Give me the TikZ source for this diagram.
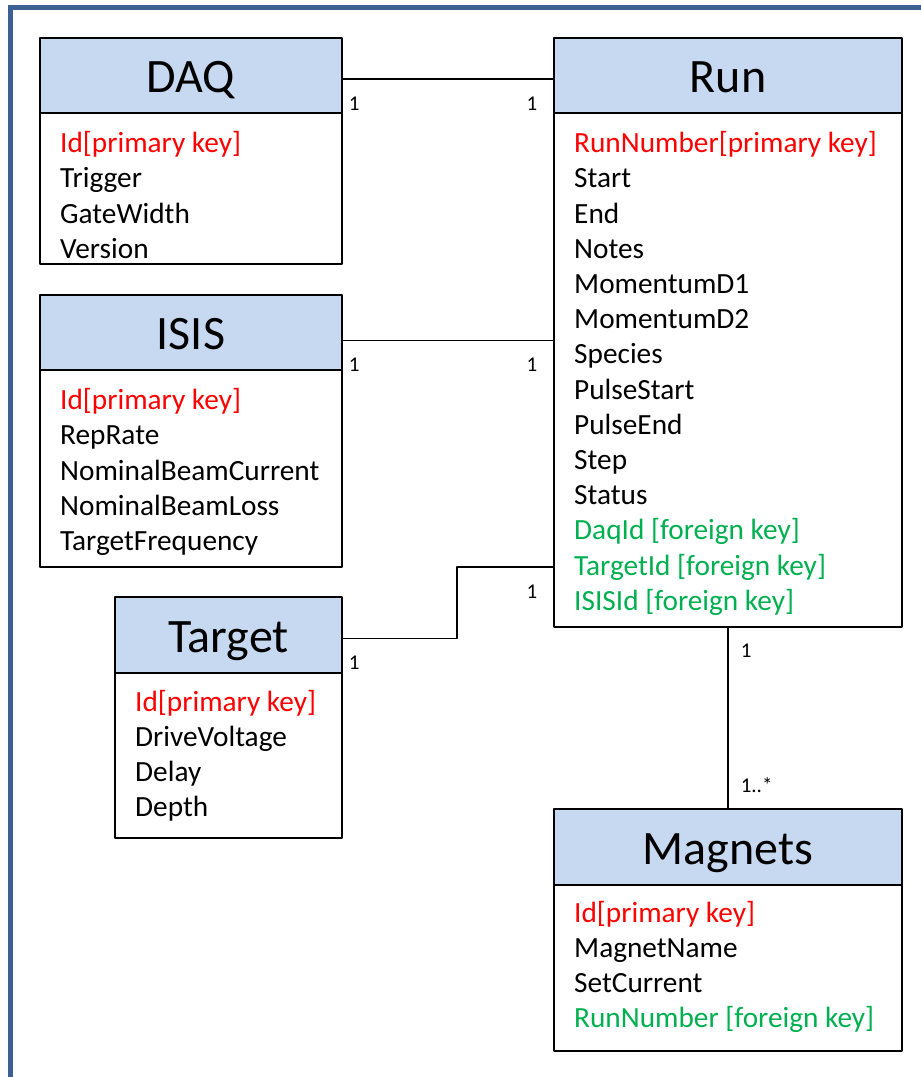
\documentclass[tikz,border=0pt]{standalone}
\usepackage{fontspec}
\setmainfont{Carlito}
\usetikzlibrary{positioning}
\definecolor{hdrfill}{RGB}{198,217,241}
\definecolor{framecol}{RGB}{60,96,145}
\definecolor{pkred}{RGB}{255,0,0}
\definecolor{fkgreen}{RGB}{0,176,80}
\tikzset{
    tbltitle/.style={
        font=\fontsize{48}{56}\selectfont, text height=34pt, text depth=0pt
    }
}

\begin{document}
\begin{tikzpicture}[x=1pt,y=-1pt, line cap=round, line join=round]

\tikzset{
  hdr/.style={rectangle, draw=black, fill=hdrfill, line width=1.6pt, minimum height=75.5pt, inner sep=0pt, outer sep=0pt, tbltitle},
  tbl/.style={rectangle, draw=black, line width=1.6pt, inner sep=0pt, outer sep=0pt},
  attr/.style={anchor=north west, align=left, inner sep=0pt, font=\fontsize{29.3}{35.2}\selectfont, execute at begin node=\strut},
  conn/.style={draw=black, line width=1.6pt},
  mult/.style={inner sep=0pt, font=\fontsize{21}{25}\selectfont},
  multL/.style={mult, anchor=north west, xshift=6pt, yshift=-17pt},
  multR/.style={mult, anchor=north east, xshift=-16pt, yshift=-17pt},
  outerframe/.style={draw=framecol, line width=5pt, line cap=butt, line join=miter},
}

\useasboundingbox (0,0) rectangle (921,1077);

% outer frame (only top and left edge visible)
\draw[outerframe] (10,1085) -- (10,7.5) -- (930,7.5);

% DAQ
\node[hdr, minimum width=302pt] (daq) at (191,75.5) {DAQ};
\node[tbl, minimum width=302pt, minimum height=151pt, below=0pt of daq] (daqbody) {};
\node[attr, below right=18pt and 20pt of daqbody.north west] (daqattr) {%
  \textcolor{pkred}{Id[primary key]}\\
  Trigger\\
  GateWidth\\
  Version};

% ISIS
\node[hdr, minimum width=302pt] (isis) at (191,332.5) {ISIS};
\node[tbl, minimum width=302pt, minimum height=197pt, below=0pt of isis] (isisbody) {};
\node[attr, below right=18pt and 20pt of isisbody.north west] (isisattr) {%
  \textcolor{pkred}{Id[primary key]}\\
  RepRate\\
  NominalBeamCurrent\\
  NominalBeamLoss\\
  TargetFrequency};

% Target
\node[hdr, minimum width=227pt, minimum height=76pt] (target) at (228.5,635) {Target};
\node[tbl, minimum width=227pt, minimum height=165pt, below=0pt of target] (targetbody) {};
\node[attr, below right=17pt and 20pt of targetbody.north west] (targetattr) {%
  \textcolor{pkred}{Id[primary key]}\\
  DriveVoltage\\
  Delay\\
  Depth};

% Run
\node[hdr, minimum width=348pt] (run) at (728,75.5) {Run};
\node[tbl, minimum width=348pt, minimum height=514pt, below=0pt of run] (runbody) {};
\node[attr, below right=18pt and 20pt of runbody.north west] (runattr) {%
  \textcolor{pkred}{RunNumber[primary key]}\\
  Start\\
  End\\
  Notes\\
  MomentumD1\\
  MomentumD2\\
  Species\\
  PulseStart\\
  PulseEnd\\
  Step\\
  Status\\
  \textcolor{fkgreen}{DaqId [foreign key]}\\
  \textcolor{fkgreen}{TargetId [foreign key]}\\
  \textcolor{fkgreen}{ISISId [foreign key]}};

% Magnets
\node[hdr, minimum width=348pt, minimum height=76pt] (magnets) at (728,847) {Magnets};
\node[tbl, minimum width=348pt, minimum height=166pt, below=0pt of magnets] (magnetsbody) {};
\node[attr, below right=16pt and 20pt of magnetsbody.north west] (magnetsattr) {%
  \textcolor{pkred}{Id[primary key]}\\
  MagnetName\\
  SetCurrent\\
  \textcolor{fkgreen}{RunNumber [foreign key]}};

% relations
\draw[conn] ([yshift=-3.5pt]daq.east) node[multL] (daqm) {1}
  -- ([yshift=-3.5pt]daq.east -| run.west) node[multR] (rundaqm) {1};
\draw[conn] ([yshift=-8pt]isis.east) node[multL] (isism) {1}
  -- ([yshift=-8pt]isis.east -| runbody.west) node[multR] (runisism) {1};
\coordinate (tgtbend) at (457,567);
\draw[conn] ([yshift=-3.5pt]target.east) node[multL] (targetm) {1}
  -| (tgtbend) -- (tgtbend -| runbody.west) node[multR] (runtargetm) {1};
\draw[conn] (runbody.south) node[mult, anchor=north west, xshift=12pt, yshift=-16pt] (runmagm) {1}
  -- (magnets.north) node[mult, anchor=south west, xshift=12pt, yshift=16pt] (magnetsm) {1..*};

\end{tikzpicture}
\end{document}
